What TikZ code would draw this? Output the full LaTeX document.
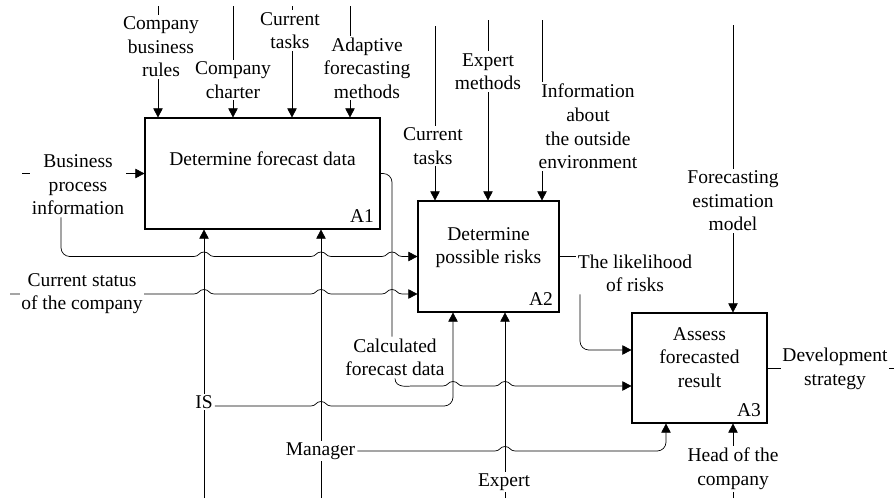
\documentclass[tikz,border=0pt]{standalone}
\usepackage{fontspec}
\setmainfont{Liberation Serif}
\usetikzlibrary{arrows.meta,positioning,backgrounds}

\newcommand{\hop}[2]{[sharp corners] -- (#1-1,#2) .. controls (#1-0.5,#2) and (#1-0.5,#2+0.45) .. (#1,#2+0.45) .. controls (#1+0.5,#2+0.45) and (#1+0.5,#2) .. (#1+1,#2) [rounded corners=5pt]}

\begin{document}
\begin{tikzpicture}[x=0.2cm, y=0.2cm, line width=0.6pt]
		 \tikzstyle{every node}+=[inner sep=0pt, font=\fontsize{11.1}{13.4}\selectfont]
		 \tikzstyle{box}=[draw=black]
		 \tikzstyle{ttl}=[align=center]
		 \tikzstyle{boxnum}=[inner sep=3.5pt, anchor=south east]
		 \tikzstyle{lbl}=[fill=white, inner sep=1pt, align=center]
		 \tikzstyle{link}=[black, rounded corners=5pt]
		 \tikzstyle{arr}=[link, -{Triangle[length=5.2pt, width=5.4pt]}]
		 \useasboundingbox (0,0) rectangle (89.4,-50);
		 \node [box, minimum width=4.7cm, minimum height=2.22cm] (A1) at (26.25,-17.35) {};
		 \node [box, minimum width=2.82cm, minimum height=2.22cm] (A2) at (48.85,-25.65) {};
		 \node [box, minimum width=2.7cm, minimum height=2.2cm] (A3) at (69.95,-36.8) {};
		 \node [ttl, below=0.68cm of A1.north] (A1t) {Determine forecast data};
		 \node [ttl, below=0.53cm of A2.north] (A2t) {Determine\\possible risks};
		 \node [ttl, below=0.29cm of A3.north] (A3t) {Assess\\forecasted\\result};
		 \node [boxnum] (A1n) at (A1.south east) {A1};
		 \node [boxnum] (A2n) at (A2.south east) {A2};
		 \node [boxnum] (A3n) at (A3.south east) {A3};
		 \node [lbl] (cbr) at (16.1,-4.67) {Company\\business\\rules};
		 \node [lbl] (cch) at (23.3,-8.0) {Company\\charter};
		 \node [lbl] (ct1) at (29.0,-3.05) {Current\\tasks};
		 \node [lbl] (afm) at (36.7,-6.8) {Adaptive\\forecasting\\methods};
		 \node [lbl] (ct2) at (43.3,-14.6) {Current\\tasks};
		 \node [lbl] (exm) at (48.8,-7.15) {Expert\\methods};
		 \node [lbl] (ioe) at (58.8,-12.65) {Information\\about\\the outside\\environment};
		 \node [lbl] (fem) at (73.3,-20.1) {Forecasting\\estimation\\model};
		 \node [lbl] (bpi) at (7.8,-18.5) {Business\\process\\information};
		 \node [lbl] (cst) at (8.2,-29.35) {Current status\\of the company};
		 \node [lbl] (cfd) at (39.5,-35.75) {Calculated\\forecast data};
		 \node [lbl] (lik) at (63.5,-27.35) {The likelihood\\of risks};
		 \node [lbl] (dev) at (83.5,-36.9) {Development\\strategy};
		 \node [lbl] (is) at (20.4,-40.2) {IS};
		 \node [lbl] (mgr) at (32.05,-45.1) {Manager};
		 \node [lbl] (exp) at (50.4,-48.2) {Expert};
		 \node [lbl] (hoc) at (73.3,-46.9) {Head of the\\company};
		 \coordinate (c1) at (15.8,-0.6);
		 \coordinate (c2) at (23.3,-0.6);
		 \coordinate (c3) at (29.2,-0.6);
		 \coordinate (c4) at (35.0,-0.6);
		 \coordinate (c5) at (43.5,-2.6);
		 \coordinate (c6) at (48.8,-2.0);
		 \coordinate (c7) at (54.2,-2.0);
		 \coordinate (c8) at (73.3,-2.5);
		 \coordinate (i1) at (2.2,-17.35);
		 \coordinate (i2) at (1.0,-29.4);
		 \coordinate (o1) at (89.4,-36.8);
		 \coordinate (m1) at (20.4,-49.8);
		 \coordinate (m2) at (32.1,-49.8);
		 \coordinate (m3) at (50.5,-49.8);
		 \coordinate (m4) at (73.3,-49.8);
		 \begin{scope}[on background layer]
		 \draw [arr] (c1) -- (c1 |- A1.north);
		 \draw [arr] (c2) -- (c2 |- A1.north);
		 \draw [arr] (c3) -- (c3 |- A1.north);
		 \draw [arr] (c4) -- (c4 |- A1.north);
		 \draw [arr] (c5) -- (c5 |- A2.north);
		 \draw [arr] (c6) -- (c6 |- A2.north);
		 \draw [arr] (c7) -- (c7 |- A2.north);
		 \draw [arr] (c8) -- (c8 |- A3.north);
		 \draw [arr] (i1) -- (i1 -| A1.west);
		 \draw [arr] ([xshift=-0.34cm]bpi.south) |- (12,-25.65) \hop{20.4}{-25.65} \hop{32.1}{-25.65} \hop{39.2}{-25.65} -- (A2.west);
		 \draw [arr] (i2) \hop{20.4}{-29.4} \hop{32.1}{-29.4} \hop{39.2}{-29.4} -- (i2 -| A2.west);
		 \draw [link] (A1.east) -| ([xshift=-0.06cm]cfd.north);
		 \draw [arr] (cfd.south) to[out=-90,in=180] (42,-38.6) \hop{45.3}{-38.6} \hop{50.5}{-38.6} -- ([yshift=-0.36cm]A3.west);
		 \draw [link] (A2.east) -- ++(1.2,0) to[out=0,in=180] ++(1.2,-0.4);
		 \draw [arr] ([xshift=-1.1cm]lik.south) |- ([yshift=0.36cm]A3.west);
		 \draw [link] (A3.east) -- (o1);
		 \draw [arr] (m1) -- (m1 |- A1.south);
		 \draw [arr] (m2) -- (m2 |- A1.south);
		 \draw [arr] (m3) -- (m3 |- A2.south);
		 \draw [arr] (m4) -- (m4 |- A3.south);
		 \draw [arr] ([yshift=-0.08cm]is.east) \hop{32.1}{-40.6} -| ([xshift=-0.71cm]A2.south);
		 \draw [arr] (mgr.east) \hop{50.5}{-45.1} -| ([xshift=-0.67cm]A3.south);
		 \end{scope}
\end{tikzpicture}
\end{document}
